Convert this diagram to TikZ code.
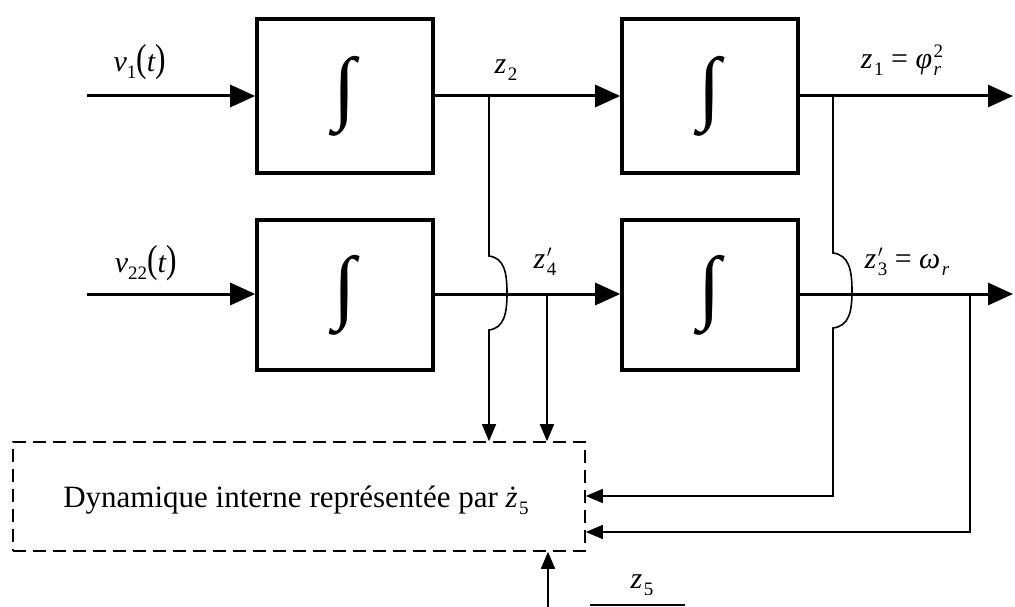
\documentclass[tikz,border=0pt]{standalone}
\usepackage{fontspec}
\usepackage{graphicx}
\setmainfont{Liberation Serif}
\usetikzlibrary{arrows.meta,calc}
% italic symbol carrying a superscript and a subscript stacked on each other
\newcommand\supsub[3]{\textit{#1}\kern1.5pt%
  \setbox0\hbox{\fontsize{19}{20}\selectfont #2}%
  \setbox2\hbox{\fontsize{19}{20}\selectfont #3}%
  \ifdim\wd0>\wd2 \dimen0=\wd0 \else \dimen0=\wd2 \fi
  \hbox to\dimen0{\raisebox{0.8ex}{\box0}\hss}\kern-\dimen0
  \hbox to\dimen0{\raisebox{-0.5ex}{\box2}\hss}}
\newcommand\primesym{$\prime$}
\newcommand\tallparen[1]{\scalebox{1.05}[1.3]{#1}}
\newcommand\integ{\resizebox*{!}{80pt}{∫}}
\begin{document}
\begin{tikzpicture}[x=1pt,y=-1pt,
  intbox/.style={draw,line width=3.6pt,minimum width=176pt,inner sep=0pt},
  mainline/.style={line width=3pt,-{Triangle[length=25pt,width=22pt]}},
  fbline/.style={line width=1.6pt,-{Triangle[length=17pt,width=14pt]}},
  plainfb/.style={line width=1.6pt},
  dynbox/.style={draw,line width=1.6pt,dash pattern=on 13pt off 7pt,minimum width=572pt,minimum height=109pt,inner sep=0pt},
  lbl/.style={font=\fontsize{30}{34}\selectfont,inner sep=0pt}]
\useasboundingbox (0,0) rectangle (1015,607);

% integrator blocks
\node[intbox,minimum height=154pt] (int1) at (345,96) {\integ};
\node[intbox,minimum height=154pt] (int2) at (710,96) {\integ};
\node[intbox,minimum height=150pt] (int3) at (345,295) {\integ};
\node[intbox,minimum height=150pt] (int4) at (710,295) {\integ};

% internal dynamics block
\node[dynbox] (dyn) at (299,496.5) {};
\node[lbl,anchor=base,font=\fontsize{31}{35}\selectfont] (dyntxt) at (296,507) {Dynamique interne représentée par \supsub{ż}{}{5}};

% end points and branch points
\coordinate (in1) at (87,96);
\coordinate (in2) at (87,294);
\coordinate (out1) at (1013,96);
\coordinate (out2) at (1013,294);
\coordinate (b2) at (489,96);
\coordinate (b4) at (547,294);
\coordinate (b1) at (833,96);
\coordinate (b3) at (970,294);
\coordinate (z5in) at (548,607);
\coordinate (z5a) at (590,605);
\coordinate (z5b) at (685,605);

% forward paths
\draw[mainline] (in1) -- (int1.west |- in1);
\draw[mainline] (int1.east |- in1) -- (int2.west |- in1);
\draw[mainline] (int2.east |- in1) -- (out1);
\draw[mainline] (in2) -- (int3.west |- in2);
\draw[mainline] (int3.east |- in2) -- (int4.west |- in2);
\draw[mainline] (int4.east |- in2) -- (out2);

% feedback paths, hopping over the lower forward line
\draw[fbline] (b2) -- (489,256)
  .. controls (504,258) and (507,272) .. (507,293)
  .. controls (507,314) and (504,328) .. (489,330)
  -- (b2 |- dyn.north);
\draw[fbline] (b4) -- (b4 |- dyn.north);
\draw[fbline] (b1) -- (833,253)
  .. controls (849,255) and (852,270) .. (852,291)
  .. controls (852,312) and (849,326) .. (833,328)
  -- (833,496) -- (dyn.east |- 0,496);
\draw[fbline] (b3) -- (970,532) -- (dyn.east |- 0,532);
\draw[fbline] (z5in) -- (z5in |- dyn.south);
\draw[plainfb] (z5a) -- (z5b);

% signal labels
\node[lbl] (lv1) at (140,62) {\textit{v}\raisebox{-0.5ex}{\fontsize{19}{20}\selectfont 1}\tallparen{(}\textit{t}\tallparen{)}};
\node[lbl] (lv22) at (146,263) {\textit{v}\raisebox{-0.5ex}{\fontsize{19}{20}\selectfont 22}\tallparen{(}\textit{t}\tallparen{)}};
\node[lbl] (lz2) at (506,70) {\supsub{z}{}{2}};
\node[lbl] (lz1) at (902,60) {\supsub{z}{}{1} = \supsub{φ}{2}{\textit{r}}};
\node[lbl] (lz4) at (545,262) {\supsub{z}{\primesym}{4}};
\node[lbl] (lz3) at (907,262) {\supsub{z}{\primesym}{3} = \supsub{ω}{}{\textit{r}}};
\node[lbl] (lz5) at (642,585) {\supsub{z}{}{5}};
\end{tikzpicture}
\end{document}
